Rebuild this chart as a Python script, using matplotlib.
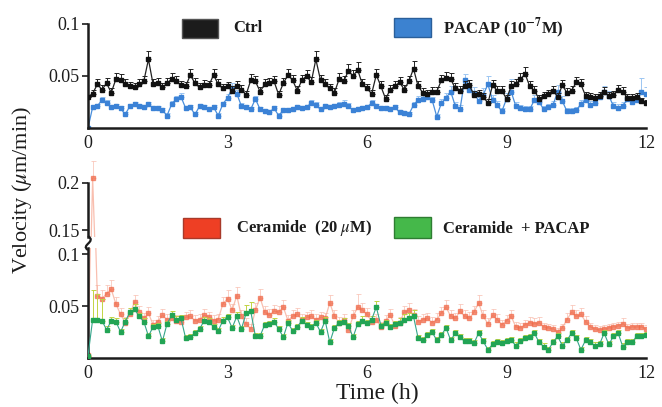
import numpy as np
import matplotlib
matplotlib.use("Agg")
import matplotlib.pyplot as plt
from matplotlib.patches import Rectangle, PathPatch
from matplotlib.path import Path

plt.rcParams['font.family'] = ['Liberation Serif', 'DejaVu Serif']
plt.rcParams['mathtext.fontset'] = 'stix'

# -----------------------------
# Data (velocity in 1e-3 um/min, sampled every 0.1 h)
# -----------------------------
ctrl_vel = [
    30, 33, 42, 37, 43, 34, 47, 46, 42, 40,
    39, 42, 45, 66, 42, 43, 39, 43, 47, 45,
    41, 40, 51, 43, 39, 41, 41, 51, 42, 38,
    40, 36, 40, 37, 32, 46, 45, 35, 42, 43,
    45, 32, 43, 51, 46, 36, 46, 50, 44, 66,
    46, 42, 38, 34, 47, 45, 55, 50, 56, 42,
    38, 33, 51, 40, 28, 37, 40, 44, 37, 45,
    57, 40, 34, 33, 35, 35, 46, 48, 47, 38,
    36, 40, 41, 32, 33, 30, 24, 41, 36, 36,
    28, 40, 42, 47, 52, 40, 36, 28, 31, 33,
    36, 30, 41, 34, 36, 44, 42, 31, 30, 29,
    31, 35, 31, 32, 37, 35, 29, 29, 30, 26,
    24]
ctrl_err = [
    0, 4, 5, 4, 5, 4, 6, 6, 5, 4,
    4, 5, 5, 8, 5, 5, 4, 5, 6, 5,
    4, 4, 6, 5, 4, 5, 4, 6, 5, 4,
    4, 4, 5, 4, 4, 6, 5, 4, 5, 5,
    5, 4, 5, 6, 5, 4, 5, 6, 5, 8,
    5, 5, 4, 4, 6, 5, 7, 6, 7, 5,
    4, 4, 6, 5, 4, 4, 5, 5, 4, 5,
    7, 5, 4, 4, 4, 4, 5, 6, 6, 5,
    4, 5, 5, 4, 4, 4, 4, 5, 4, 4,
    4, 5, 5, 6, 7, 5, 4, 4, 4, 4,
    4, 4, 5, 4, 4, 5, 5, 4, 4, 4,
    4, 4, 4, 4, 4, 4, 4, 4, 4, 3,
    3]

pacap_vel = [
    0, 20, 21, 27, 24, 20, 21, 19, 13, 21,
    23, 21, 20, 23, 19, 19, 17, 12, 23, 28,
    30, 19, 20, 13, 21, 20, 18, 20, 12, 23,
    29, 38, 33, 21, 20, 18, 28, 18, 16, 15,
    19, 12, 17, 17, 18, 20, 19, 20, 24, 22,
    18, 21, 20, 21, 22, 23, 21, 17, 18, 19,
    20, 24, 21, 19, 19, 18, 20, 15, 14, 13,
    22, 27, 28, 30, 27, 11, 24, 29, 35, 21,
    18, 46, 37, 34, 26, 32, 42, 27, 22, 16,
    28, 35, 21, 19, 18, 18, 27, 25, 18, 20,
    22, 35, 26, 16, 16, 17, 23, 27, 22, 24,
    30, 35, 31, 21, 19, 21, 28, 25, 27, 35,
    33]
pacap_err = [
    0, 2, 2, 3, 3, 2, 2, 2, 2, 2,
    2, 2, 2, 2, 2, 2, 2, 2, 3, 3,
    4, 2, 2, 2, 2, 2, 2, 2, 2, 2,
    4, 5, 4, 3, 2, 2, 3, 2, 2, 2,
    2, 2, 2, 2, 2, 2, 2, 2, 3, 3,
    2, 2, 2, 2, 3, 4, 3, 2, 2, 2,
    2, 3, 2, 2, 2, 2, 2, 2, 2, 2,
    3, 4, 4, 4, 3, 2, 4, 5, 5, 4,
    4, 6, 6, 5, 4, 6, 8, 5, 4, 3,
    6, 12, 4, 3, 3, 3, 5, 4, 3, 3,
    4, 6, 5, 3, 3, 3, 4, 5, 4, 4,
    5, 5, 5, 4, 4, 4, 5, 4, 5, 13,
    6]

cer_vel = [
    3, 205, 60, 57, 62, 66, 52, 42, 34, 42,
    54, 44, 38, 43, 32, 35, 41, 37, 38, 36,
    35, 39, 40, 36, 37, 41, 39, 36, 37, 52,
    57, 46, 60, 40, 33, 28, 46, 58, 44, 41,
    45, 44, 49, 36, 40, 42, 37, 39, 40, 37,
    39, 38, 53, 40, 34, 37, 27, 40, 49, 46,
    42, 35, 37, 30, 36, 41, 31, 34, 44, 46,
    41, 35, 37, 38, 34, 37, 43, 49, 40, 38,
    45, 40, 38, 44, 53, 40, 33, 41, 37, 32,
    36, 40, 30, 29, 32, 34, 33, 34, 30, 29,
    28, 25, 29, 37, 44, 40, 42, 35, 30, 28,
    27, 28, 29, 30, 31, 33, 29, 30, 30, 30,
    28]
cer_err = [
    0, 18, 10, 8, 8, 9, 7, 6, 5, 6,
    7, 6, 5, 6, 5, 5, 6, 5, 5, 5,
    5, 5, 6, 5, 5, 6, 5, 5, 5, 7,
    8, 6, 8, 6, 5, 5, 7, 8, 6, 6,
    6, 6, 7, 5, 6, 6, 5, 5, 6, 5,
    5, 5, 8, 6, 5, 5, 5, 6, 13, 7,
    6, 5, 5, 5, 5, 6, 5, 5, 6, 7,
    6, 5, 5, 5, 5, 6, 6, 7, 6, 5,
    7, 6, 6, 6, 8, 6, 5, 6, 5, 5,
    5, 6, 5, 5, 5, 5, 5, 5, 4, 4,
    4, 4, 4, 6, 7, 6, 6, 5, 4, 4,
    4, 4, 4, 4, 4, 5, 4, 4, 4, 4,
    4]

cer_pacap_vel = [
    2, 37, 37, 36, 27, 36, 35, 25, 35, 44,
    47, 40, 35, 21, 30, 31, 16, 33, 41, 37,
    38, 19, 20, 24, 28, 36, 35, 30, 26, 36,
    39, 29, 40, 28, 43, 45, 21, 21, 32, 33,
    35, 28, 20, 34, 26, 30, 36, 32, 30, 34,
    25, 36, 15, 29, 34, 35, 31, 20, 33, 36,
    34, 37, 49, 31, 34, 30, 33, 34, 37, 38,
    40, 19, 17, 22, 25, 17, 22, 29, 17, 24,
    20, 16, 16, 14, 24, 16, 8, 13, 15, 14,
    16, 17, 12, 16, 19, 20, 24, 15, 11, 8,
    15, 21, 12, 17, 24, 19, 8, 17, 15, 12,
    13, 24, 13, 21, 24, 11, 15, 15, 21, 21,
    22]
cer_pacap_err = [
    0, 28, 25, 21, 4, 3, 3, 3, 3, 4,
    5, 3, 3, 3, 3, 3, 3, 3, 4, 3,
    3, 3, 3, 3, 3, 3, 3, 3, 3, 3,
    3, 3, 4, 3, 8, 9, 3, 3, 3, 3,
    3, 3, 3, 3, 3, 3, 3, 3, 3, 3,
    3, 3, 3, 3, 3, 3, 3, 3, 3, 4,
    3, 3, 6, 3, 3, 3, 3, 4, 5, 5,
    6, 3, 3, 3, 3, 3, 3, 3, 3, 3,
    3, 3, 3, 3, 3, 3, 3, 3, 3, 3,
    3, 3, 3, 3, 3, 3, 3, 3, 3, 3,
    3, 3, 3, 3, 3, 3, 3, 3, 3, 3,
    3, 3, 3, 3, 3, 3, 3, 3, 3, 3,
    3]

time_h = np.arange(len(ctrl_vel)) * 0.1
x_ticks = [0, 3, 6, 9, 12]

# -----------------------------
# Figure / axes (placed in pixel units)
# -----------------------------
W, H = 662, 407
fig = plt.figure(figsize=(W / 100, H / 100), dpi=100)


def box(x0, y0, x1, y1):
    return [x0 / W, 1 - y1 / H, (x1 - x0) / W, (y1 - y0) / H]


def px(x, y):
    return (x / W, 1 - y / H)


ax_top = fig.add_axes(box(88, 24, 646, 128))
ax_hi = fig.add_axes(box(88, 150, 646, 237))
ax_lo = fig.add_axes(box(88, 248, 646, 358))

ink = '#1c1c1c'
for ax in (ax_top, ax_hi, ax_lo):
    for s in ('top', 'right'):
        ax.spines[s].set_visible(False)
    for s in ('left', 'bottom'):
        ax.spines[s].set_linewidth(1.8)
        ax.spines[s].set_color(ink)
    ax.set_xlim(0, 12)
    ax.set_xticks(x_ticks)
    ax.tick_params(axis='x', length=0, pad=5, labelsize=13, colors=ink)
    ax.tick_params(axis='y', length=4, width=1.2, direction='out',
                   labelsize=13, pad=2, colors=ink)


def draw(ax, y, err, line, mark, ecol, alpha=1.0, z=2, ms=2.4, lw=0.9):
    y = np.array(y) / 1000
    err = np.array(err) / 1000
    ax.errorbar(time_h, y, yerr=[np.zeros_like(err), err], fmt='-',
                color=line, lw=lw, marker='s', ms=ms, mfc=mark, mec=mark,
                ecolor=ecol, elinewidth=0.7, capsize=1.8, capthick=0.7,
                alpha=alpha, zorder=z)


# top panel
draw(ax_top, pacap_vel, pacap_err, '#4a8fdc', '#3b82d6', '#9cc6f2', z=2)
draw(ax_top, ctrl_vel, ctrl_err, '#222222', '#111111', '#222222', z=3)
ax_top.set_ylim(0, 0.1)
ax_top.set_yticks([0.05, 0.1])
ax_top.set_yticklabels(['0.05', '0.1'])

# bottom panel (broken axis)
for ax in (ax_hi, ax_lo):
    draw(ax, cer_vel, cer_err, '#f7a48e', '#f06a4a', '#f9bcae', alpha=0.7,
         z=2, ms=2.8)
    draw(ax, cer_pacap_vel, cer_pacap_err, '#35a58a', '#22a455', '#c2d444',
         z=3, lw=0.8)

ax_lo.set_ylim(0, 0.1058)
ax_lo.set_yticks([0.05, 0.1])
ax_lo.set_yticklabels(['0.05', '0.1'])

ax_hi.set_ylim(0.1426, 0.235)
ax_hi.set_yticks([0.15, 0.2])
ax_hi.set_yticklabels(['0.15', '0.2'])
ax_hi.spines['bottom'].set_visible(False)
ax_hi.spines['left'].set_bounds(0.1426, 0.2)
ax_hi.set_xticks([])

# break mark on the y axis
verts = [px(88, 250), px(80, 245), px(97, 242), px(88, 236)]
brk = PathPatch(Path(verts, [Path.MOVETO, Path.CURVE4, Path.CURVE4, Path.CURVE4]),
                transform=fig.transFigure, fill=False, lw=1.6, ec=ink)
fig.add_artist(brk)

# legends
legend_items = [
    ((182, 19, 218, 38), '#1c1c1c', '#555555', (233, 28), 'Ctrl'),
    ((394, 18, 431, 37), '#3c82d0', '#2a5f9a', (443, 28), r'PACAP (10$^{\mathbf{-7}}$M)'),
    ((183, 218, 220, 238), '#ee3f24', '#a83a2a', (236, 228), r'Ceramide  (20 $\mu$M)'),
    ((394, 217, 431, 238), '#45b84a', '#2e7d32', (443, 229), 'Ceramide  + PACAP'),
]
for (x0, y0, x1, y1), fc, ec, (tx, ty), label in legend_items:
    r = Rectangle(px(x0, y1), (x1 - x0) / W, (y1 - y0) / H,
                  transform=fig.transFigure, fc=fc, ec=ec, lw=1.0)
    fig.add_artist(r)
    fig.text(tx / W, 1 - ty / H, label, fontsize=12, fontweight='bold',
             ha='left', va='center', color=ink)

# axis labels
fig.text(22 / W, 1 - 190 / H, r'Velocity ($\mu$m/min)', rotation=90,
         fontsize=16, ha='center', va='center', color=ink)
fig.text(377 / W, 1 - 393 / H, 'Time (h)', fontsize=17,
         ha='center', va='center', color=ink)

fig.savefig('out.png', dpi=100)
